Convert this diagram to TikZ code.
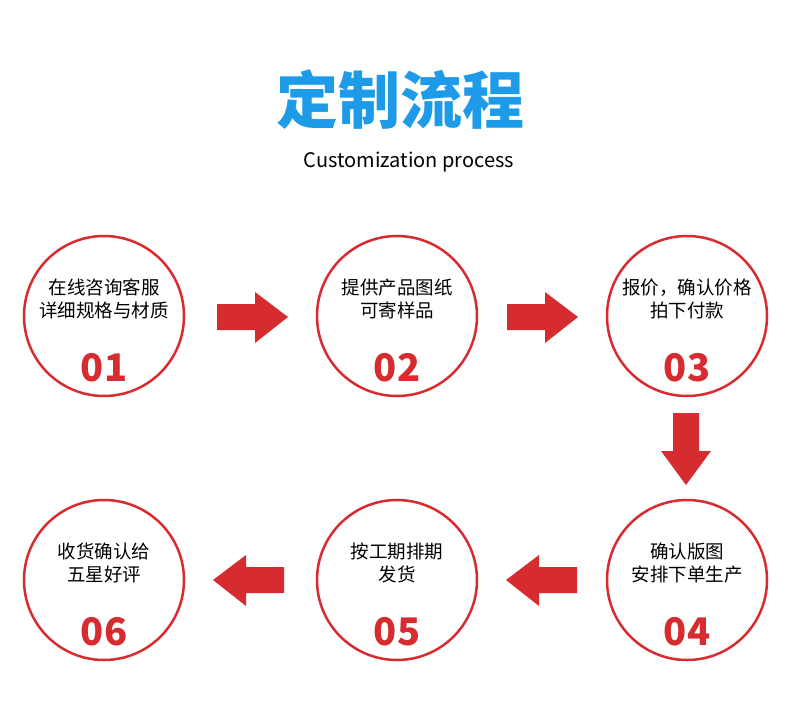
\documentclass[tikz,border=0pt]{standalone}
\usepackage{fontspec}
\setmainfont{Noto Sans CJK SC}
\newfontfamily\cjkbold[BoldFont={Noto Sans CJK SC Bold}]{Noto Sans CJK SC}
\definecolor{stepred}{HTML}{D62B2F}
\definecolor{titleblue}{HTML}{1E9BE8}
\tikzset{
  stepcircle/.style={circle,draw=stepred,line width=2.5pt,minimum size=160pt,inner sep=0pt},
  stepnum/.style={text=stepred,font=\fontsize{38}{40}\selectfont\bfseries},
  steptext/.style={align=center,font=\fontsize{18.5}{23}\selectfont},
  blockarrow/.style={fill=stepred,draw=none}
}
\begin{document}
\begin{tikzpicture}[x=1pt,y=-1pt]
\useasboundingbox (0,0) rectangle (790,723);

% title
\node[text=titleblue,font=\fontsize{62}{64}\selectfont\bfseries] (title) at (400,100) {定制流程};
\node[font=\fontsize{20}{22}\selectfont] (sub) at (409,162) {Customization process};

% circles
\node[stepcircle] (c1) at (104,316) {};
\node[stepcircle] (c2) at (397,316) {};
\node[stepcircle] (c3) at (687,316) {};
\node[stepcircle] (c4) at (687,580) {};
\node[stepcircle] (c5) at (397,580) {};
\node[stepcircle] (c6) at (104,580) {};

\foreach \c/\n in {c1/01,c2/02,c3/03,c4/04,c5/05,c6/06}
  \node[stepnum] at ([yshift=-52pt]\c.center) {\n};

\node[steptext] at ([yshift=17pt]c1.center) {在线咨询客服\\详细规格与材质};
\node[steptext] at ([yshift=17pt]c2.center) {提供产品图纸\\可寄样品};
\node[steptext] at ([yshift=17pt]c3.center) {报价，确认价格\\拍下付款};
\node[steptext] at ([yshift=17pt]c4.center) {确认版图\\安排下单生产};
\node[steptext] at ([yshift=17pt]c5.center) {按工期排期\\发货};
\node[steptext] at ([yshift=17pt]c6.center) {收货确认给\\五星好评};

% arrows
\fill[blockarrow] (217,304) -- (255,304) -- (255,292) -- (288,317) -- (255,343) -- (255,330) -- (217,330) -- cycle;
\fill[blockarrow] (507,304) -- (545,304) -- (545,292) -- (578,317) -- (545,343) -- (545,330) -- (507,330) -- cycle;
\fill[blockarrow] (673,413) -- (699,413) -- (699,451) -- (711,451) -- (686,485) -- (661,451) -- (673,451) -- cycle;
\fill[blockarrow] (577,567) -- (539,567) -- (539,555) -- (506,580) -- (539,606) -- (539,593) -- (577,593) -- cycle;
\fill[blockarrow] (284,567) -- (246,567) -- (246,555) -- (213,580) -- (246,606) -- (246,593) -- (284,593) -- cycle;
\end{tikzpicture}
\end{document}
